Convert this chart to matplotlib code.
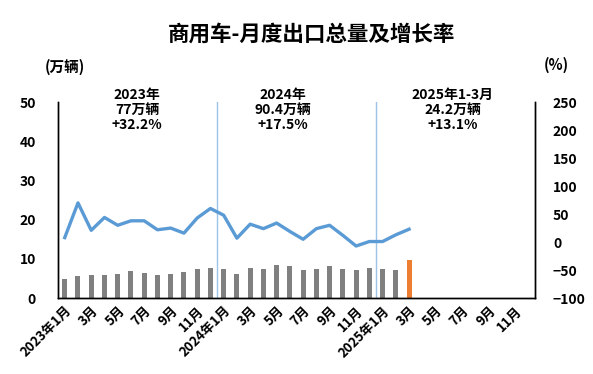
import matplotlib
matplotlib.use('Agg')
import matplotlib.pyplot as plt
import numpy as np

plt.rcParams['font.family'] = ['Noto Sans CJK SC', 'DejaVu Sans']
plt.rcParams['font.weight'] = 'bold'

# ── data ─────────────────────────────────────────────────────────────────────
months = ['2023-%02d' % m for m in range(1, 13)] + \
         ['2024-%02d' % m for m in range(1, 13)] + \
         ['2025-%02d' % m for m in range(1, 13)]
volume = [4.9, 5.7, 5.9, 5.9, 6.2, 7.0, 6.5, 5.9, 6.2, 6.7, 7.5, 7.8,
          7.5, 6.2, 7.8, 7.5, 8.5, 8.3, 7.1, 7.5, 8.3, 7.5, 7.1, 7.8,
          7.5, 7.1, 9.6]
growth = [8, 70, 21, 44, 30, 38, 38, 22, 25, 16, 43, 60,
          48, 7, 32, 24, 34, 19, 5, 24, 30, 12, -7, 1,
          1, 13, 23]
tick_labels = ['2023年1月', '3月', '5月', '7月', '9月', '11月',
               '2024年1月', '3月', '5月', '7月', '9月', '11月',
               '2025年1月', '3月', '5月', '7月', '9月', '11月']
notes = ['2023年\n77万辆\n+32.2%', '2024年\n90.4万辆\n+17.5%',
         '2025年1-3月\n24.2万辆\n+13.1%']
note_x = [5.46, 16.5, 29.3]

GRAY = '#808080'
ORANGE = '#ED7D31'
BLUE = '#5B9BD5'

fig = plt.figure(figsize=(5.93, 3.74), dpi=100)
ax = fig.add_axes([0.098, 0.203, 0.804, 0.524])
ax2 = ax.twinx()

x = np.arange(len(volume))
colors = [GRAY] * (len(volume) - 1) + [ORANGE]
ax.bar(x, volume, width=0.38, color=colors, zorder=2)
ax2.plot(np.arange(len(growth)), growth, color=BLUE, lw=2.4, zorder=3)

for xv in (11.5, 23.5):
    ax.axvline(xv, color='#9DC3E6', lw=1, zorder=1)

ax.set_xlim(-0.5, len(months) - 0.5)
ax.set_ylim(0, 50)
ax2.set_ylim(-100, 250)
ax.set_yticks(range(0, 51, 10))
ax2.set_yticks(range(-100, 251, 50))

ax.set_xticks(np.arange(0, len(months), 2))
ax.set_xticklabels(tick_labels, rotation=45, ha='right', rotation_mode='anchor',
                   fontsize=9.5, fontweight='bold')
ax.tick_params(axis='x', length=0, pad=4)
ax.tick_params(axis='y', length=0, pad=16, labelsize=10)
ax2.tick_params(axis='y', length=0, pad=13, labelsize=10)
for lab in ax.get_yticklabels() + ax2.get_yticklabels():
    lab.set_fontweight('bold')

for a in (ax, ax2):
    a.spines['top'].set_visible(False)
    for s in ('left', 'right', 'bottom'):
        a.spines[s].set_color('black')
        a.spines[s].set_linewidth(1)

for nx, txt in zip(note_x, notes):
    ax.text(nx, 53.6, txt, ha='center', va='top', fontsize=10,
            fontweight='bold', linespacing=1.1, zorder=4, clip_on=False)

fig.text(0.110, 0.821, '(万辆)', ha='center', va='center', fontsize=10.5, fontweight='bold')
fig.text(0.938, 0.826, '(%)', ha='center', va='center', fontsize=10.5, fontweight='bold')
fig.text(0.525, 0.91, '商用车-月度出口总量及增长率', ha='center', va='center',
         fontsize=15.5, fontweight='bold')

fig.savefig('out.png', dpi=100, facecolor='white')
